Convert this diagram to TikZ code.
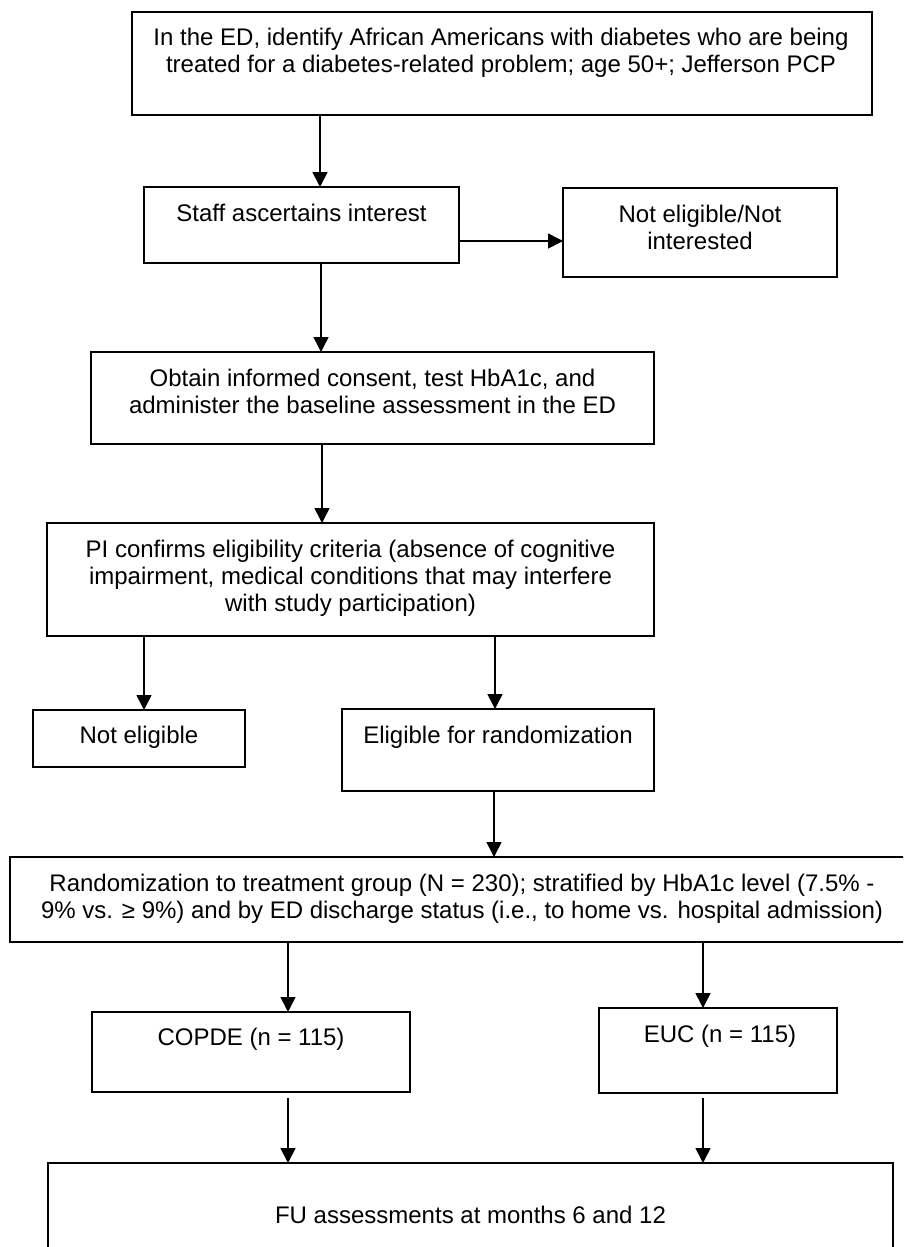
\documentclass[tikz,border=0pt]{standalone}
\usepackage{fontspec}
\setmainfont{Liberation Sans}
\usetikzlibrary{arrows.meta}
\newcommand\mlines[1]{\begin{tabular}[t]{@{}c@{}}#1\end{tabular}}
\tikzset{
  box/.style={draw=black, line width=2pt, inner sep=0pt, outer sep=0pt, anchor=north west},
  txt/.style={anchor=base, align=center, inner sep=0pt, outer sep=0pt, font=\fontsize{24}{27}\selectfont},
  arr/.style={draw=black, line width=1.6pt, -{Triangle[length=15pt,width=15pt]}}
}
\begin{document}
\begin{tikzpicture}[x=1pt,y=-1pt]
\useasboundingbox (0,0) rectangle (903,1247);
\fill[white] (0,0) rectangle (903,1247);
\clip (0,0) rectangle (903,1247);

% boxes
\node[box, minimum width=740pt, minimum height=103pt] (b1) at (132,12) {};
\node[box, minimum width=315pt, minimum height=76pt] (b2) at (144,187) {};
\node[box, minimum width=274pt, minimum height=89pt] (b3) at (563,188) {};
\node[box, minimum width=563pt, minimum height=92pt] (b4) at (91,352) {};
\node[box, minimum width=607pt, minimum height=113pt] (b5) at (47,523) {};
\node[box, minimum width=212pt, minimum height=57pt] (b6) at (33,710) {};
\node[box, minimum width=312pt, minimum height=82pt] (b7) at (342,709) {};
\node[box, minimum width=904pt, minimum height=85pt] (b8) at (10,857) {};
\node[box, minimum width=318pt, minimum height=80pt] (b9) at (92,1012) {};
\node[box, minimum width=238pt, minimum height=85pt] (b10) at (599,1008) {};
\node[box, minimum width=845pt, minimum height=107pt] (b11) at (48,1163) {};

% texts
\node[txt] (t1) at (501,46) {\mlines{In the ED, identify African Americans with diabetes who are being\\treated for a diabetes-related problem; age 50+; Jefferson PCP}};
\node[txt] (t2) at (301.5,221) {\mlines{Staff ascertains interest}};
\node[txt] (t3) at (700,222) {\mlines{Not eligible/Not\\interested}};
\node[txt] (t4) at (372.5,386) {\mlines{Obtain informed consent, test HbA1c, and\\administer the baseline assessment in the ED}};
\node[txt] (t5) at (350.5,557) {\mlines{PI confirms eligibility criteria (absence of cognitive\\impairment, medical conditions that may interfere\\with study participation)}};
\node[txt] (t6) at (139,743) {\mlines{Not eligible}};
\node[txt] (t7) at (498,743) {\mlines{Eligible for randomization}};
\node[txt] (t8) at (462,891) {\mlines{Randomization to treatment group (N = 230); stratified by HbA1c level (7.5\% -\\9\% vs. ≥ 9\%) and by ED discharge status (i.e., to home vs. hospital admission)}};
\node[txt] (t9) at (251,1045) {\mlines{COPDE (n = 115)}};
\node[txt] (t10) at (720,1042) {\mlines{EUC (n = 115)}};
\node[txt] (t11) at (470.5,1223) {\mlines{FU assessments at months 6 and 12}};

% connectors
\draw[arr] (b1.south -| 320,0) -- (320,0 |- b2.north);
\draw[arr] (b2.east |- 0,241) -- (b3.west |- 0,241);
\draw[arr] (b2.south -| 321,0) -- (321,0 |- b4.north);
\draw[arr] (b4.south -| 322,0) -- (322,0 |- b5.north);
\draw[arr] (b5.south -| 144,0) -- (144,0 |- b6.north);
\draw[arr] (b5.south -| 495,0) -- (495,0 |- b7.north);
\draw[arr] (b7.south -| 494,0) -- (494,0 |- b8.north);
\draw[arr] (b8.south -| 288,0) -- (288,0 |- b9.north);
\draw[arr] (b8.south -| 703,0) -- (703,0 |- b10.north);
\draw[arr] ([yshift=-6pt]b9.south -| 288,0) -- (288,0 |- b11.north);
\draw[arr] ([yshift=-5pt]b10.south -| 703,0) -- (703,0 |- b11.north);
\end{tikzpicture}
\end{document}
